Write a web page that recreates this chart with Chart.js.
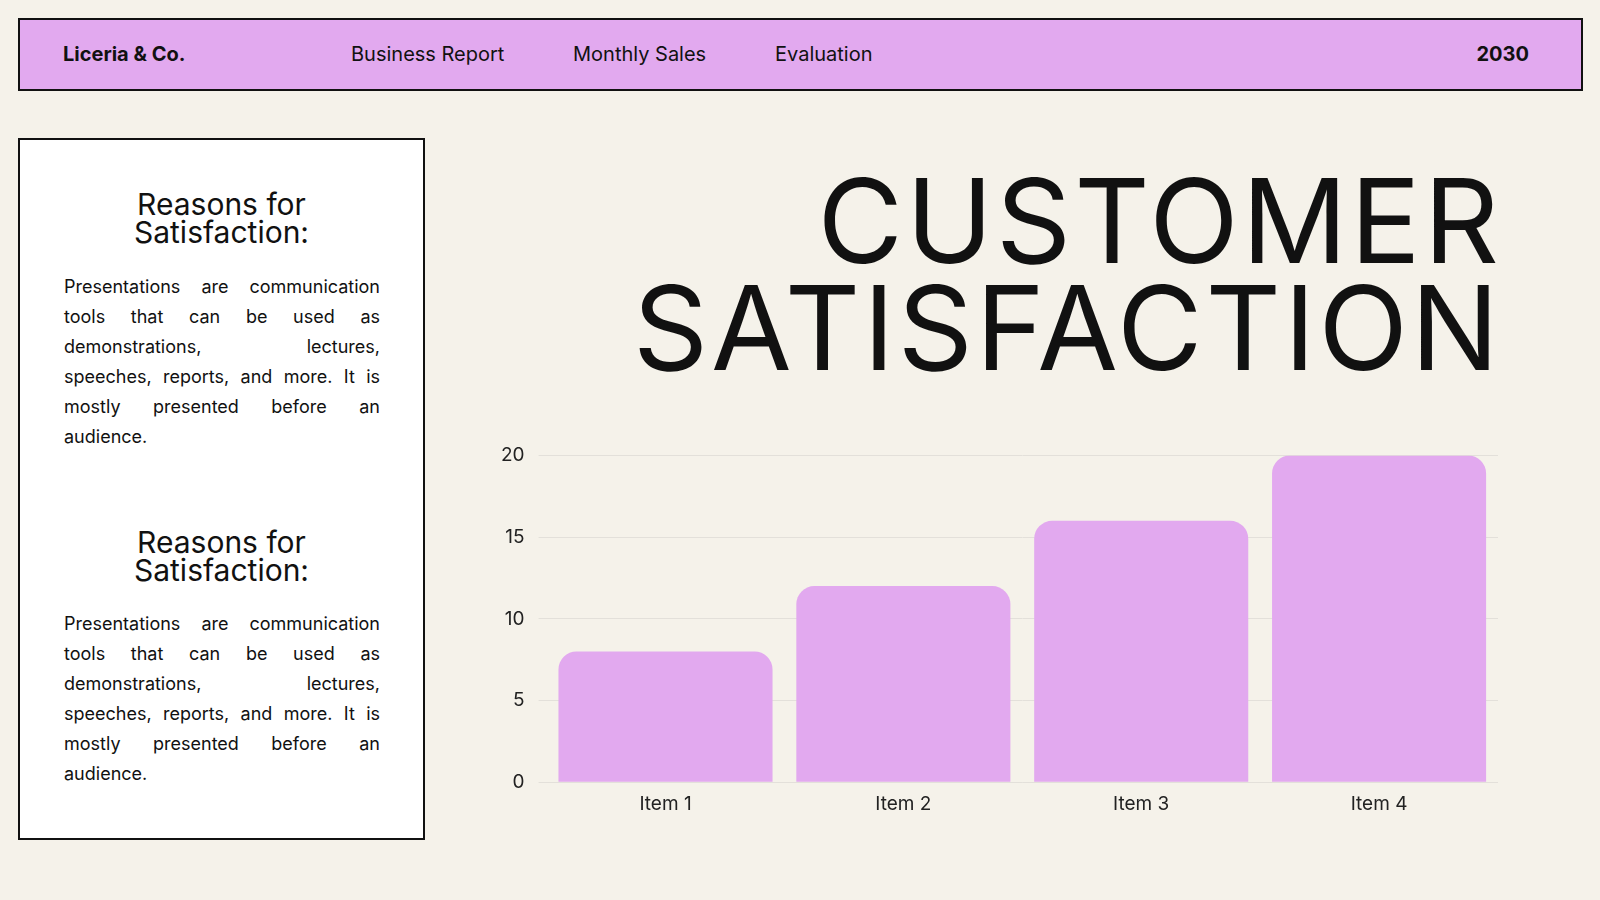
<!DOCTYPE html>
<html>
<head>
<meta charset="utf-8">
<script src="https://cdn.jsdelivr.net/npm/chart.js@4"></script>
<style>
  body { margin: 0; width: 1600px; height: 900px; background: #f5f2ea; font-family: Inter, "Open Sans", sans-serif; position: relative; overflow: hidden; color: #111; }
  .header { position: absolute; left: 18px; top: 18px; width: 1561px; height: 69px; background: #e2a9ef; border: 2px solid #111; }
  .header span { position: absolute; top: 22px; font-size: 20px; }
  .panel { position: absolute; left: 18px; top: 138px; width: 403px; height: 698px; background: #fff; border: 2px solid #111; }
  .panel h2 { font-weight: 400; font-size: 30px; line-height: 28px; text-align: center; margin: 0; position: absolute; left: 0; width: 100%; }
  .panel p { position: absolute; left: 44px; width: 316px; font-size: 18px; line-height: 30px; margin: 0; }
  .panel p span { display: block; text-align: justify; text-align-last: justify; }
  .panel p span.last { text-align-last: left; }
  .title { position: absolute; right: 98px; top: 167px; font-size: 117px; line-height: 107px; text-align: right; letter-spacing: 3px; font-weight: 400; }
  .chart { position: absolute; left: 487px; top: 430px; width: 1011px; height: 389px; }
</style>
</head>
<body>
<div class="header">
  <span style="left:43px;font-weight:700">Liceria &amp; Co.</span>
  <span style="left:331px">Business Report</span>
  <span style="left:553px">Monthly Sales</span>
  <span style="left:755px">Evaluation</span>
  <span style="right:52px;font-weight:700">2030</span>
</div>
<div class="panel">
  <h2 style="top:50px">Reasons for<br>Satisfaction:</h2>
  <p style="top:132px"><span>Presentations are communication</span><span>tools that can be used as</span><span>demonstrations, lectures,</span><span>speeches, reports, and more. It is</span><span>mostly presented before an</span><span class="last">audience.</span></p>
  <h2 style="top:388px">Reasons for<br>Satisfaction:</h2>
  <p style="top:469px"><span>Presentations are communication</span><span>tools that can be used as</span><span>demonstrations, lectures,</span><span>speeches, reports, and more. It is</span><span>mostly presented before an</span><span class="last">audience.</span></p>
</div>
<div class="title">CUSTOMER<br>SATISFACTION</div>
<div class="chart"><canvas id="c"></canvas></div>
<script>
const categories = ['Item 1', 'Item 2', 'Item 3', 'Item 4'];
const values = [8, 12, 16, 20];
const yTicks = [0, 5, 10, 15, 20];

new Chart(document.getElementById('c'), {
    type: 'bar',
    data: {
        labels: categories,
        datasets: [{
            data: values,
            backgroundColor: '#e2a9ef',
            borderRadius: { topLeft: 18, topRight: 18, bottomLeft: 0, bottomRight: 0 },
            borderSkipped: 'bottom',
            barPercentage: 0.9,
            categoryPercentage: 1
        }]
    },
    options: {
        responsive: true,
        maintainAspectRatio: false,
        animation: false,
        plugins: { legend: { display: false }, tooltip: { enabled: false } },
        scales: {
            x: {
                grid: { display: false },
                border: { color: '#e3e0da' },
                ticks: { color: '#222', font: { family: 'Inter', size: 19 } }
            },
            y: {
                min: 0, max: 20,
                afterBuildTicks: axis => { axis.ticks = yTicks.map(v => ({ value: v })); },
                grid: { color: '#e3e0da' },
                border: { display: false },
                ticks: { color: '#222', padding: 14, font: { family: 'Inter', size: 19 } }
            }
        }
    }
});
</script>
</body>
</html>
